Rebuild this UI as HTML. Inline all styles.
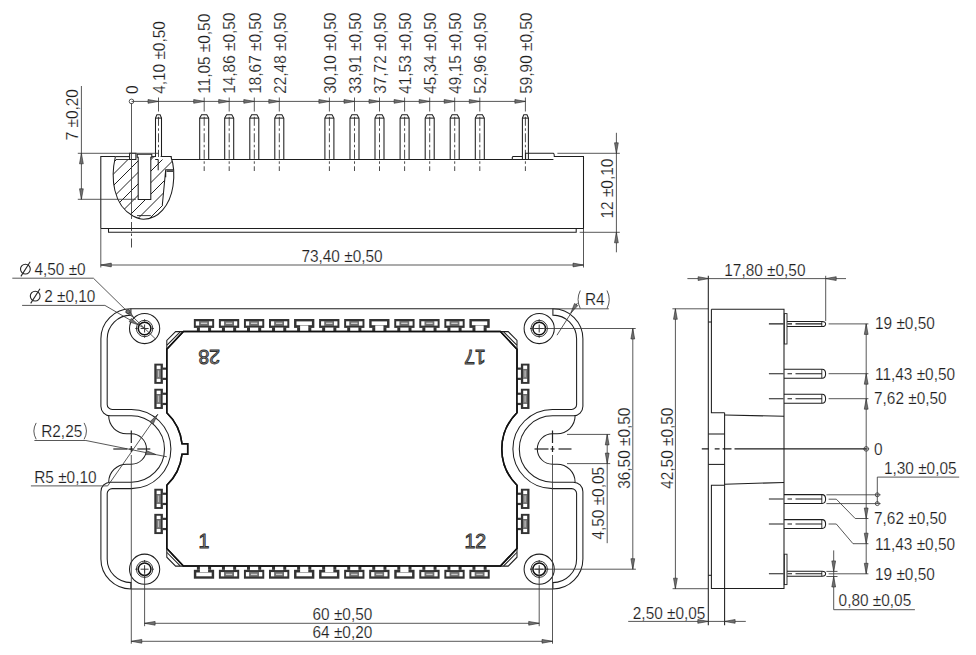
<!DOCTYPE html>
<html><head><meta charset="utf-8"><style>
html,body{margin:0;padding:0;background:#fff;width:976px;height:655px;overflow:hidden}
svg{display:block}
.o{stroke:#1e1e1e;stroke-width:1.05;fill:none}
.o2{stroke:#222;stroke-width:0.9;fill:none}
.cm{stroke:#222;stroke-width:1.2;fill:none}
.cl2{stroke:#1e1e1e;stroke-width:1.1;fill:none}
.th{stroke:#111;stroke-width:1.5;fill:none}
.d{stroke:#3a3a3a;stroke-width:0.85;fill:none}
.cl{stroke:#2a2a2a;stroke-width:0.85;fill:none;stroke-dasharray:9 2.5 2.5 2.5}
.h{stroke:#222;stroke-width:1.0;fill:none}
.ar{fill:#707070;stroke:#2a2a2a;stroke-width:0.6}
.sym{stroke:#262626;stroke-width:1.1;fill:none}
.t{font-family:"Liberation Sans",sans-serif;fill:#1e1e1e;stroke:#fff;stroke-width:0.15}
.tn{font-family:"Liberation Sans",sans-serif;fill:#9a9a9a;stroke:#2e2e2e;stroke-width:0.9}
.tb{font-family:"Liberation Sans",sans-serif;fill:#fff;stroke:#333;stroke-width:1.3;font-weight:bold}
</style></head><body>
<svg width="976" height="655" viewBox="0 0 976 655">
<rect width="976" height="655" fill="#fff"/>
<line x1="131.5" y1="101.4" x2="525.4" y2="101.4" class="d" />
<circle cx="131.5" cy="101.4" r="2.3" class="d" />
<text transform="translate(137.9,94.0) rotate(-90) scale(1,1.08)" text-anchor="start" font-size="15.4" class="t">0</text>
<path d="M158.5,101.4 L148.0,103.3 L148.0,99.5 Z" class="ar"/>
<line x1="158.5" y1="97.5" x2="158.5" y2="111.5" class="d" />
<text transform="translate(164.7,93.8) rotate(-90) scale(1,1.08)" text-anchor="start" font-size="15.4" class="t">4,10 ±0,50</text>
<path d="M155.5,159.5 V118.1 L156.9,114.8 H160.1 L161.5,118.1 V159.5" class="o" />
<line x1="155.5" y1="118.1" x2="161.5" y2="118.1" class="o" />
<line x1="158.5" y1="116.8" x2="158.5" y2="171.0" class="cl" />
<path d="M204.2,101.4 L193.7,103.3 L193.7,99.5 Z" class="ar"/>
<line x1="204.2" y1="97.5" x2="204.2" y2="111.5" class="d" />
<text transform="translate(210.4,93.8) rotate(-90) scale(1,1.08)" text-anchor="start" font-size="15.4" class="t">11,05 ±0,50</text>
<path d="M199.7,159.5 V118.1 L201.6,114.8 H206.8 L208.7,118.1 V159.5" class="o" />
<line x1="199.7" y1="118.1" x2="208.7" y2="118.1" class="o" />
<line x1="204.2" y1="116.8" x2="204.2" y2="171.0" class="cl" />
<path d="M229.2,101.4 L218.7,103.3 L218.7,99.5 Z" class="ar"/>
<line x1="229.2" y1="97.5" x2="229.2" y2="111.5" class="d" />
<text transform="translate(235.4,93.8) rotate(-90) scale(1,1.08)" text-anchor="start" font-size="15.4" class="t">14,86 ±0,50</text>
<path d="M224.7,159.5 V118.1 L226.6,114.8 H231.8 L233.7,118.1 V159.5" class="o" />
<line x1="224.7" y1="118.1" x2="233.7" y2="118.1" class="o" />
<line x1="229.2" y1="116.8" x2="229.2" y2="171.0" class="cl" />
<path d="M254.3,101.4 L243.8,103.3 L243.8,99.5 Z" class="ar"/>
<line x1="254.3" y1="97.5" x2="254.3" y2="111.5" class="d" />
<text transform="translate(260.5,93.8) rotate(-90) scale(1,1.08)" text-anchor="start" font-size="15.4" class="t">18,67 ±0,50</text>
<path d="M249.8,159.5 V118.1 L251.7,114.8 H256.9 L258.8,118.1 V159.5" class="o" />
<line x1="249.8" y1="118.1" x2="258.8" y2="118.1" class="o" />
<line x1="254.3" y1="116.8" x2="254.3" y2="171.0" class="cl" />
<path d="M279.3,101.4 L268.8,103.3 L268.8,99.5 Z" class="ar"/>
<line x1="279.3" y1="97.5" x2="279.3" y2="111.5" class="d" />
<text transform="translate(285.5,93.8) rotate(-90) scale(1,1.08)" text-anchor="start" font-size="15.4" class="t">22,48 ±0,50</text>
<path d="M274.8,159.5 V118.1 L276.7,114.8 H281.9 L283.8,118.1 V159.5" class="o" />
<line x1="274.8" y1="118.1" x2="283.8" y2="118.1" class="o" />
<line x1="279.3" y1="116.8" x2="279.3" y2="171.0" class="cl" />
<path d="M329.4,101.4 L318.9,103.3 L318.9,99.5 Z" class="ar"/>
<line x1="329.4" y1="97.5" x2="329.4" y2="111.5" class="d" />
<text transform="translate(335.6,93.8) rotate(-90) scale(1,1.08)" text-anchor="start" font-size="15.4" class="t">30,10 ±0,50</text>
<path d="M324.9,159.5 V118.1 L326.8,114.8 H332.0 L333.9,118.1 V159.5" class="o" />
<line x1="324.9" y1="118.1" x2="333.9" y2="118.1" class="o" />
<line x1="329.4" y1="116.8" x2="329.4" y2="171.0" class="cl" />
<path d="M354.5,101.4 L344.0,103.3 L344.0,99.5 Z" class="ar"/>
<line x1="354.5" y1="97.5" x2="354.5" y2="111.5" class="d" />
<text transform="translate(360.7,93.8) rotate(-90) scale(1,1.08)" text-anchor="start" font-size="15.4" class="t">33,91 ±0,50</text>
<path d="M350.0,159.5 V118.1 L351.9,114.8 H357.1 L359.0,118.1 V159.5" class="o" />
<line x1="350.0" y1="118.1" x2="359.0" y2="118.1" class="o" />
<line x1="354.5" y1="116.8" x2="354.5" y2="171.0" class="cl" />
<path d="M379.5,101.4 L369.0,103.3 L369.0,99.5 Z" class="ar"/>
<line x1="379.5" y1="97.5" x2="379.5" y2="111.5" class="d" />
<text transform="translate(385.7,93.8) rotate(-90) scale(1,1.08)" text-anchor="start" font-size="15.4" class="t">37,72 ±0,50</text>
<path d="M375.0,159.5 V118.1 L376.9,114.8 H382.1 L384.0,118.1 V159.5" class="o" />
<line x1="375.0" y1="118.1" x2="384.0" y2="118.1" class="o" />
<line x1="379.5" y1="116.8" x2="379.5" y2="171.0" class="cl" />
<path d="M404.6,101.4 L394.1,103.3 L394.1,99.5 Z" class="ar"/>
<line x1="404.6" y1="97.5" x2="404.6" y2="111.5" class="d" />
<text transform="translate(410.8,93.8) rotate(-90) scale(1,1.08)" text-anchor="start" font-size="15.4" class="t">41,53 ±0,50</text>
<path d="M400.1,159.5 V118.1 L402.0,114.8 H407.2 L409.1,118.1 V159.5" class="o" />
<line x1="400.1" y1="118.1" x2="409.1" y2="118.1" class="o" />
<line x1="404.6" y1="116.8" x2="404.6" y2="171.0" class="cl" />
<path d="M429.7,101.4 L419.2,103.3 L419.2,99.5 Z" class="ar"/>
<line x1="429.7" y1="97.5" x2="429.7" y2="111.5" class="d" />
<text transform="translate(435.9,93.8) rotate(-90) scale(1,1.08)" text-anchor="start" font-size="15.4" class="t">45,34 ±0,50</text>
<path d="M425.2,159.5 V118.1 L427.1,114.8 H432.3 L434.2,118.1 V159.5" class="o" />
<line x1="425.2" y1="118.1" x2="434.2" y2="118.1" class="o" />
<line x1="429.7" y1="116.8" x2="429.7" y2="171.0" class="cl" />
<path d="M454.7,101.4 L444.2,103.3 L444.2,99.5 Z" class="ar"/>
<line x1="454.7" y1="97.5" x2="454.7" y2="111.5" class="d" />
<text transform="translate(460.9,93.8) rotate(-90) scale(1,1.08)" text-anchor="start" font-size="15.4" class="t">49,15 ±0,50</text>
<path d="M450.2,159.5 V118.1 L452.1,114.8 H457.3 L459.2,118.1 V159.5" class="o" />
<line x1="450.2" y1="118.1" x2="459.2" y2="118.1" class="o" />
<line x1="454.7" y1="116.8" x2="454.7" y2="171.0" class="cl" />
<path d="M479.8,101.4 L469.3,103.3 L469.3,99.5 Z" class="ar"/>
<line x1="479.8" y1="97.5" x2="479.8" y2="111.5" class="d" />
<text transform="translate(486.0,93.8) rotate(-90) scale(1,1.08)" text-anchor="start" font-size="15.4" class="t">52,96 ±0,50</text>
<path d="M475.3,159.5 V118.1 L477.2,114.8 H482.4 L484.3,118.1 V159.5" class="o" />
<line x1="475.3" y1="118.1" x2="484.3" y2="118.1" class="o" />
<line x1="479.8" y1="116.8" x2="479.8" y2="171.0" class="cl" />
<path d="M525.4,101.4 L514.9,103.3 L514.9,99.5 Z" class="ar"/>
<line x1="525.4" y1="97.5" x2="525.4" y2="111.5" class="d" />
<text transform="translate(531.6,93.8) rotate(-90) scale(1,1.08)" text-anchor="start" font-size="15.4" class="t">59,90 ±0,50</text>
<path d="M522.4,159.5 V118.1 L523.8,114.8 H527.0 L528.4,118.1 V159.5" class="o" />
<line x1="522.4" y1="118.1" x2="528.4" y2="118.1" class="o" />
<line x1="525.4" y1="116.8" x2="525.4" y2="171.0" class="cl" />
<path d="M100.8,228.5 V156.5 H115.5" class="o" />
<path d="M161.2,159.5 V156.6 H171.2 V159.5 H512.3 V157.2 Q512.5,156.4 513.5,156.4 H522.6" class="o" />
<path d="M525.6,159.5 V153.3 H553.4 Q554.3,153.5 554.3,156.4 H583.5 V228.5 H100.8" class="o" />
<line x1="512.3" y1="159.5" x2="553.4" y2="159.5" class="o" />
<path d="M108.5,228.5 V232.3 H576.2 V228.5" class="o" />
<clipPath id="eggc"><path d="M115.3,157.0 C110.5,178 113,205 133,216 C138,218.6 141,219.2 143.5,219.2 C158,219.2 170,206 173,186 C174.5,175 174,165 171.0,157.0 Z"/></clipPath>
<g clip-path="url(#eggc)"><rect x="105" y="150" width="75" height="75" fill="#fff"/><path d="M60.0,-60.0 L260.0,-260.0 M60.0,-48.5 L260.0,-248.5 M60.0,-37.0 L260.0,-237.0 M60.0,-25.5 L260.0,-225.5 M60.0,-14.0 L260.0,-214.0 M60.0,-2.5 L260.0,-202.5 M60.0,9.0 L260.0,-191.0 M60.0,20.5 L260.0,-179.5 M60.0,32.0 L260.0,-168.0 M60.0,43.5 L260.0,-156.5 M60.0,55.0 L260.0,-145.0 M60.0,66.5 L260.0,-133.5 M60.0,78.0 L260.0,-122.0 M60.0,89.5 L260.0,-110.5 M60.0,101.0 L260.0,-99.0 M60.0,112.5 L260.0,-87.5 M60.0,124.0 L260.0,-76.0 M60.0,135.5 L260.0,-64.5 M60.0,147.0 L260.0,-53.0 M60.0,158.5 L260.0,-41.5 M60.0,170.0 L260.0,-30.0 M60.0,181.5 L260.0,-18.5 M60.0,193.0 L260.0,-7.0 M60.0,204.5 L260.0,4.5 M60.0,216.0 L260.0,16.0 M60.0,227.5 L260.0,27.5 M60.0,239.0 L260.0,39.0 M60.0,250.5 L260.0,50.5 M60.0,262.0 L260.0,62.0 M60.0,273.5 L260.0,73.5 M60.0,285.0 L260.0,85.0 M60.0,296.5 L260.0,96.5 M60.0,308.0 L260.0,108.0 M60.0,319.5 L260.0,119.5 M60.0,331.0 L260.0,131.0 M60.0,342.5 L260.0,142.5 M60.0,354.0 L260.0,154.0 M60.0,365.5 L260.0,165.5 M60.0,377.0 L260.0,177.0 M60.0,388.5 L260.0,188.5" class="h"/><rect x="105" y="150" width="24.6" height="9.5" fill="#fff"/><rect x="129.6" y="150" width="6.3" height="9.5" fill="#fff"/><path d="M138.2,157.2 V199.5 H150.8 V150 H138.2 Z" fill="#fff"/><rect x="155.2" y="150" width="6" height="9.5" fill="#fff"/><rect x="161.2" y="150" width="14" height="9.5" fill="#fff"/><path d="M165.7,169.8 L162.3,205.3 L185,205.3 L185,169.8 Z" fill="#fff"/></g>
<path d="M115.3,157.0 C110.5,178 113,205 133,216 C138,218.6 141,219.2 143.5,219.2 C158,219.2 170,206 173,186 C174.5,175 174,165 171.0,157.0" class="o" />
<line x1="115.3" y1="156.6" x2="129.6" y2="156.6" class="o" />
<line x1="115.8" y1="159.5" x2="129.6" y2="159.5" class="o2" />
<path d="M129.6,153.2 H135.9 V159.5 H129.6 Z" class="o" />
<path d="M137.2,154.3 H151.8 V157.2 H150.8 V199.5 H138.2 V157.2 H137.2 Z" class="o" />
<line x1="151.8" y1="156.6" x2="155.2" y2="156.6" class="o" />
<line x1="158.2" y1="159.5" x2="158.2" y2="170.3" class="o" />
<line x1="155.2" y1="159.5" x2="158.2" y2="159.5" class="o" />
<path d="M165.7,177.2 V169.8 H173.6 M165.7,169.8 L162.3,205.3" class="o" />
<rect x="166.50" y="170.20" width="6.80" height="1.80" fill="#444" />
<line x1="137.0" y1="215.6" x2="150.8" y2="215.6" class="o2" />
<line x1="131.5" y1="103.1" x2="131.5" y2="219.0" class="d" />
<line x1="131.5" y1="222.0" x2="131.5" y2="247.5" class="cl" />
<line x1="81.4" y1="86.0" x2="81.4" y2="199.3" class="d" />
<line x1="77.8" y1="153.3" x2="158.8" y2="153.3" class="d" />
<line x1="77.8" y1="199.3" x2="135.9" y2="199.3" class="d" />
<path d="M81.4,153.3 L83.3,163.8 L79.5,163.8 Z" class="ar"/>
<path d="M81.4,199.3 L79.5,188.8 L83.3,188.8 Z" class="ar"/>
<text transform="translate(78.4,140.3) rotate(-90) scale(1,1.08)" text-anchor="start" font-size="15.4" class="t">7 ±0,20</text>
<line x1="616.4" y1="132.8" x2="616.4" y2="252.3" class="d" />
<line x1="557.4" y1="153.3" x2="619.8" y2="153.3" class="d" />
<line x1="579.7" y1="232.3" x2="619.8" y2="232.3" class="d" />
<path d="M616.4,153.3 L614.5,142.8 L618.3,142.8 Z" class="ar"/>
<path d="M616.4,232.3 L618.3,242.8 L614.5,242.8 Z" class="ar"/>
<text transform="translate(613.4,218.5) rotate(-90) scale(1,1.08)" text-anchor="start" font-size="15.4" class="t">12 ±0,10</text>
<line x1="100.8" y1="228.5" x2="100.8" y2="267.5" class="d" />
<line x1="583.5" y1="228.5" x2="583.5" y2="267.5" class="d" />
<line x1="100.8" y1="265.0" x2="583.5" y2="265.0" class="d" />
<path d="M100.8,265.0 L111.3,263.1 L111.3,266.9 Z" class="ar"/>
<path d="M583.5,265.0 L573.0,266.9 L573.0,263.1 Z" class="ar"/>
<text transform="translate(342.0,262.0) scale(1,1.08)" text-anchor="middle" font-size="15.4" class="t">73,40 ±0,50</text>
<path d="M130.9,308.8 H552.9 A30.0,30.0 0 0 1 582.9,338.8 V406.3 A9.5,9.5 0 0 1 573.4,415.8 H552.5 A33.2,33.2 0 0 0 552.5,482.2 H573.4 A9.5,9.5 0 0 1 582.9,491.7 V558.9 A30.0,30.0 0 0 1 552.9,588.9 H130.9 A30.0,30.0 0 0 1 100.9,558.9 V491.7 A9.5,9.5 0 0 1 110.4,482.2 H131.3 A33.2,33.2 0 0 0 131.3,415.8 H110.4 A9.5,9.5 0 0 1 100.9,406.3 V338.8 A30.0,30.0 0 0 1 130.9,308.8 Z" class="o" />
<path d="M130.9,308.8 V315.1 A23.7,23.7 0 0 0 107.2,338.8 V404.4 A5.0,5.0 0 0 0 112.2,409.4 H131.3 A39.6,39.6 0 0 1 131.3,488.6 H112.2 A5.0,5.0 0 0 0 107.2,493.6 V558.9 A23.7,23.7 0 0 0 130.9,582.6 V588.9" class="o" />
<path d="M552.9,308.8 V315.1 A23.7,23.7 0 0 1 576.6,338.8 V404.4 A5.0,5.0 0 0 1 571.6,409.4 H552.5 A39.6,39.6 0 0 0 552.5,488.6 H571.6 A5.0,5.0 0 0 1 576.6,493.6 V558.9 A23.7,23.7 0 0 1 552.9,582.6 V588.9" class="o" />
<path d="M108.70000000000002,415.8 A18.0,18.0 0 0 0 126.7,433.8 H131.3 A15.2,15.2 0 0 1 131.3,464.2 H126.7 A18.0,18.0 0 0 0 108.70000000000002,482.2" class="o" />
<path d="M575.1,415.8 A18.0,18.0 0 0 1 557.1,433.8 H552.5 A15.2,15.2 0 0 0 552.5,464.2 H557.1 A18.0,18.0 0 0 1 575.1,482.2" class="o" />
<circle cx="144.6" cy="328.5" r="15.1" class="o" />
<circle cx="144.6" cy="328.5" r="8.2" class="o2" />
<circle cx="144.6" cy="328.5" r="6.3" class="th" />
<line x1="140.6" y1="328.5" x2="148.6" y2="328.5" class="o2" />
<line x1="144.6" y1="324.5" x2="144.6" y2="332.5" class="o2" />
<line x1="144.6" y1="321.5" x2="144.6" y2="319.3" class="o2" />
<line x1="144.6" y1="335.5" x2="144.6" y2="337.7" class="o2" />
<line x1="137.6" y1="328.5" x2="135.4" y2="328.5" class="o2" />
<line x1="151.6" y1="328.5" x2="153.8" y2="328.5" class="o2" />
<circle cx="539.2" cy="328.5" r="15.1" class="o" />
<circle cx="539.2" cy="328.5" r="8.2" class="o2" />
<circle cx="539.2" cy="328.5" r="6.3" class="th" />
<line x1="535.2" y1="328.5" x2="543.2" y2="328.5" class="o2" />
<line x1="539.2" y1="324.5" x2="539.2" y2="332.5" class="o2" />
<line x1="539.2" y1="321.5" x2="539.2" y2="319.3" class="o2" />
<line x1="539.2" y1="335.5" x2="539.2" y2="337.7" class="o2" />
<line x1="532.2" y1="328.5" x2="530.0" y2="328.5" class="o2" />
<line x1="546.2" y1="328.5" x2="548.4" y2="328.5" class="o2" />
<circle cx="144.6" cy="569.2" r="15.1" class="o" />
<circle cx="144.6" cy="569.2" r="8.2" class="o2" />
<circle cx="144.6" cy="569.2" r="6.3" class="th" />
<line x1="140.6" y1="569.2" x2="148.6" y2="569.2" class="o2" />
<line x1="144.6" y1="565.2" x2="144.6" y2="573.2" class="o2" />
<line x1="144.6" y1="562.2" x2="144.6" y2="560.0" class="o2" />
<line x1="144.6" y1="576.2" x2="144.6" y2="578.4" class="o2" />
<line x1="137.6" y1="569.2" x2="135.4" y2="569.2" class="o2" />
<line x1="151.6" y1="569.2" x2="153.8" y2="569.2" class="o2" />
<circle cx="539.2" cy="569.2" r="15.1" class="o" />
<circle cx="539.2" cy="569.2" r="8.2" class="o2" />
<circle cx="539.2" cy="569.2" r="6.3" class="th" />
<line x1="535.2" y1="569.2" x2="543.2" y2="569.2" class="o2" />
<line x1="539.2" y1="565.2" x2="539.2" y2="573.2" class="o2" />
<line x1="539.2" y1="562.2" x2="539.2" y2="560.0" class="o2" />
<line x1="539.2" y1="576.2" x2="539.2" y2="578.4" class="o2" />
<line x1="532.2" y1="569.2" x2="530.0" y2="569.2" class="o2" />
<line x1="546.2" y1="569.2" x2="548.4" y2="569.2" class="o2" />
<path d="M183.4,331.6 H500.4 L517.0,349.20000000000005 V412.8 A50.7,50.7 0 0 0 517.0,485.2 V548.5 L500.4,566.1 H183.4 L166.8,548.5 V485.2 A50.7,50.7 0 0 0 182.0,454.3 H187.7 V443.7 H182.0 A50.7,50.7 0 0 0 166.8,412.8 V349.20000000000005 Z" class="th" />
<path d="M183.4,331.6 H175.6 L166.8,340.5 V349.2" class="o" />
<line x1="180.2" y1="331.8" x2="167.0" y2="345.2" class="o" />
<path d="M183.4,566.1 H175.6 L166.8,557.2 V548.5" class="o" />
<line x1="180.2" y1="565.9" x2="167.0" y2="552.5" class="o" />
<path d="M500.4,331.6 H508.2 L517.0,340.5 V349.2" class="o" />
<line x1="503.6" y1="331.8" x2="516.8" y2="345.2" class="o" />
<path d="M500.4,566.1 H508.2 L517.0,557.2 V548.5" class="o" />
<line x1="503.6" y1="565.9" x2="516.8" y2="552.5" class="o" />
<rect x="193.85" y="319.00" width="20.30" height="8.90" fill="#333" />
<rect x="196.90" y="327.90" width="14.20" height="3.90" fill="#333" />
<rect x="195.80" y="321.30" width="3.50" height="4.30" fill="#fff" />
<rect x="208.70" y="321.30" width="3.50" height="4.30" fill="#fff" />
<rect x="199.30" y="321.10" width="9.40" height="4.70" fill="#6e6e6e" />
<rect x="200.80" y="322.60" width="6.40" height="1.40" fill="#c8c8c8" />
<rect x="199.90" y="327.60" width="8.20" height="4.10" fill="#fff" />
<rect x="193.85" y="569.80" width="20.30" height="8.90" fill="#333" />
<rect x="196.90" y="565.90" width="14.20" height="3.90" fill="#333" />
<rect x="196.30" y="572.50" width="15.40" height="3.80" fill="#fff" />
<rect x="199.90" y="566.00" width="8.20" height="6.20" fill="#fff" />
<rect x="218.90" y="319.00" width="20.30" height="8.90" fill="#333" />
<rect x="221.95" y="327.90" width="14.20" height="3.90" fill="#333" />
<rect x="220.85" y="321.30" width="3.50" height="4.30" fill="#fff" />
<rect x="233.75" y="321.30" width="3.50" height="4.30" fill="#fff" />
<rect x="224.35" y="321.10" width="9.40" height="4.70" fill="#6e6e6e" />
<rect x="225.85" y="322.60" width="6.40" height="1.40" fill="#c8c8c8" />
<rect x="224.95" y="327.60" width="8.20" height="4.10" fill="#fff" />
<rect x="218.90" y="569.80" width="20.30" height="8.90" fill="#333" />
<rect x="221.95" y="565.90" width="14.20" height="3.90" fill="#333" />
<rect x="220.85" y="572.10" width="3.50" height="4.30" fill="#fff" />
<rect x="233.75" y="572.10" width="3.50" height="4.30" fill="#fff" />
<rect x="224.35" y="571.90" width="9.40" height="4.70" fill="#6e6e6e" />
<rect x="225.85" y="573.70" width="6.40" height="1.40" fill="#c8c8c8" />
<rect x="224.95" y="566.00" width="8.20" height="4.10" fill="#fff" />
<rect x="243.95" y="319.00" width="20.30" height="8.90" fill="#333" />
<rect x="247.00" y="327.90" width="14.20" height="3.90" fill="#333" />
<rect x="245.90" y="321.30" width="3.50" height="4.30" fill="#fff" />
<rect x="258.80" y="321.30" width="3.50" height="4.30" fill="#fff" />
<rect x="249.40" y="321.10" width="9.40" height="4.70" fill="#6e6e6e" />
<rect x="250.90" y="322.60" width="6.40" height="1.40" fill="#c8c8c8" />
<rect x="250.00" y="327.60" width="8.20" height="4.10" fill="#fff" />
<rect x="243.95" y="569.80" width="20.30" height="8.90" fill="#333" />
<rect x="247.00" y="565.90" width="14.20" height="3.90" fill="#333" />
<rect x="245.90" y="572.10" width="3.50" height="4.30" fill="#fff" />
<rect x="258.80" y="572.10" width="3.50" height="4.30" fill="#fff" />
<rect x="249.40" y="571.90" width="9.40" height="4.70" fill="#6e6e6e" />
<rect x="250.90" y="573.70" width="6.40" height="1.40" fill="#c8c8c8" />
<rect x="250.00" y="566.00" width="8.20" height="4.10" fill="#fff" />
<rect x="269.00" y="319.00" width="20.30" height="8.90" fill="#333" />
<rect x="272.05" y="327.90" width="14.20" height="3.90" fill="#333" />
<rect x="270.95" y="321.30" width="3.50" height="4.30" fill="#fff" />
<rect x="283.85" y="321.30" width="3.50" height="4.30" fill="#fff" />
<rect x="274.45" y="321.10" width="9.40" height="4.70" fill="#6e6e6e" />
<rect x="275.95" y="322.60" width="6.40" height="1.40" fill="#c8c8c8" />
<rect x="275.05" y="327.60" width="8.20" height="4.10" fill="#fff" />
<rect x="269.00" y="569.80" width="20.30" height="8.90" fill="#333" />
<rect x="272.05" y="565.90" width="14.20" height="3.90" fill="#333" />
<rect x="270.95" y="572.10" width="3.50" height="4.30" fill="#fff" />
<rect x="283.85" y="572.10" width="3.50" height="4.30" fill="#fff" />
<rect x="274.45" y="571.90" width="9.40" height="4.70" fill="#6e6e6e" />
<rect x="275.95" y="573.70" width="6.40" height="1.40" fill="#c8c8c8" />
<rect x="275.05" y="566.00" width="8.20" height="4.10" fill="#fff" />
<rect x="294.05" y="319.00" width="20.30" height="8.90" fill="#333" />
<rect x="297.10" y="327.90" width="14.20" height="3.90" fill="#333" />
<rect x="296.50" y="321.40" width="15.40" height="3.80" fill="#fff" />
<rect x="300.10" y="325.50" width="8.20" height="6.20" fill="#fff" />
<rect x="294.05" y="569.80" width="20.30" height="8.90" fill="#333" />
<rect x="297.10" y="565.90" width="14.20" height="3.90" fill="#333" />
<rect x="296.50" y="572.50" width="15.40" height="3.80" fill="#fff" />
<rect x="300.10" y="566.00" width="8.20" height="6.20" fill="#fff" />
<rect x="319.10" y="319.00" width="20.30" height="8.90" fill="#333" />
<rect x="322.15" y="327.90" width="14.20" height="3.90" fill="#333" />
<rect x="321.05" y="321.30" width="3.50" height="4.30" fill="#fff" />
<rect x="333.95" y="321.30" width="3.50" height="4.30" fill="#fff" />
<rect x="324.55" y="321.10" width="9.40" height="4.70" fill="#6e6e6e" />
<rect x="326.05" y="322.60" width="6.40" height="1.40" fill="#c8c8c8" />
<rect x="325.15" y="327.60" width="8.20" height="4.10" fill="#fff" />
<rect x="319.10" y="569.80" width="20.30" height="8.90" fill="#333" />
<rect x="322.15" y="565.90" width="14.20" height="3.90" fill="#333" />
<rect x="321.55" y="572.50" width="15.40" height="3.80" fill="#fff" />
<rect x="325.15" y="566.00" width="8.20" height="6.20" fill="#fff" />
<rect x="344.15" y="319.00" width="20.30" height="8.90" fill="#333" />
<rect x="347.20" y="327.90" width="14.20" height="3.90" fill="#333" />
<rect x="346.10" y="321.30" width="3.50" height="4.30" fill="#fff" />
<rect x="359.00" y="321.30" width="3.50" height="4.30" fill="#fff" />
<rect x="349.60" y="321.10" width="9.40" height="4.70" fill="#6e6e6e" />
<rect x="351.10" y="322.60" width="6.40" height="1.40" fill="#c8c8c8" />
<rect x="350.20" y="327.60" width="8.20" height="4.10" fill="#fff" />
<rect x="344.15" y="569.80" width="20.30" height="8.90" fill="#333" />
<rect x="347.20" y="565.90" width="14.20" height="3.90" fill="#333" />
<rect x="346.10" y="572.10" width="3.50" height="4.30" fill="#fff" />
<rect x="359.00" y="572.10" width="3.50" height="4.30" fill="#fff" />
<rect x="349.60" y="571.90" width="9.40" height="4.70" fill="#6e6e6e" />
<rect x="351.10" y="573.70" width="6.40" height="1.40" fill="#c8c8c8" />
<rect x="350.20" y="566.00" width="8.20" height="4.10" fill="#fff" />
<rect x="369.20" y="319.00" width="20.30" height="8.90" fill="#333" />
<rect x="372.25" y="327.90" width="14.20" height="3.90" fill="#333" />
<rect x="371.65" y="321.40" width="15.40" height="3.80" fill="#fff" />
<rect x="375.25" y="325.50" width="8.20" height="6.20" fill="#fff" />
<rect x="369.20" y="569.80" width="20.30" height="8.90" fill="#333" />
<rect x="372.25" y="565.90" width="14.20" height="3.90" fill="#333" />
<rect x="371.15" y="572.10" width="3.50" height="4.30" fill="#fff" />
<rect x="384.05" y="572.10" width="3.50" height="4.30" fill="#fff" />
<rect x="374.65" y="571.90" width="9.40" height="4.70" fill="#6e6e6e" />
<rect x="376.15" y="573.70" width="6.40" height="1.40" fill="#c8c8c8" />
<rect x="375.25" y="566.00" width="8.20" height="4.10" fill="#fff" />
<rect x="394.25" y="319.00" width="20.30" height="8.90" fill="#333" />
<rect x="397.30" y="327.90" width="14.20" height="3.90" fill="#333" />
<rect x="396.20" y="321.30" width="3.50" height="4.30" fill="#fff" />
<rect x="409.10" y="321.30" width="3.50" height="4.30" fill="#fff" />
<rect x="399.70" y="321.10" width="9.40" height="4.70" fill="#6e6e6e" />
<rect x="401.20" y="322.60" width="6.40" height="1.40" fill="#c8c8c8" />
<rect x="400.30" y="327.60" width="8.20" height="4.10" fill="#fff" />
<rect x="394.25" y="569.80" width="20.30" height="8.90" fill="#333" />
<rect x="397.30" y="565.90" width="14.20" height="3.90" fill="#333" />
<rect x="396.70" y="572.50" width="15.40" height="3.80" fill="#fff" />
<rect x="400.30" y="566.00" width="8.20" height="6.20" fill="#fff" />
<rect x="419.30" y="319.00" width="20.30" height="8.90" fill="#333" />
<rect x="422.35" y="327.90" width="14.20" height="3.90" fill="#333" />
<rect x="421.25" y="321.30" width="3.50" height="4.30" fill="#fff" />
<rect x="434.15" y="321.30" width="3.50" height="4.30" fill="#fff" />
<rect x="424.75" y="321.10" width="9.40" height="4.70" fill="#6e6e6e" />
<rect x="426.25" y="322.60" width="6.40" height="1.40" fill="#c8c8c8" />
<rect x="425.35" y="327.60" width="8.20" height="4.10" fill="#fff" />
<rect x="419.30" y="569.80" width="20.30" height="8.90" fill="#333" />
<rect x="422.35" y="565.90" width="14.20" height="3.90" fill="#333" />
<rect x="421.25" y="572.10" width="3.50" height="4.30" fill="#fff" />
<rect x="434.15" y="572.10" width="3.50" height="4.30" fill="#fff" />
<rect x="424.75" y="571.90" width="9.40" height="4.70" fill="#6e6e6e" />
<rect x="426.25" y="573.70" width="6.40" height="1.40" fill="#c8c8c8" />
<rect x="425.35" y="566.00" width="8.20" height="4.10" fill="#fff" />
<rect x="444.35" y="319.00" width="20.30" height="8.90" fill="#333" />
<rect x="447.40" y="327.90" width="14.20" height="3.90" fill="#333" />
<rect x="446.30" y="321.30" width="3.50" height="4.30" fill="#fff" />
<rect x="459.20" y="321.30" width="3.50" height="4.30" fill="#fff" />
<rect x="449.80" y="321.10" width="9.40" height="4.70" fill="#6e6e6e" />
<rect x="451.30" y="322.60" width="6.40" height="1.40" fill="#c8c8c8" />
<rect x="450.40" y="327.60" width="8.20" height="4.10" fill="#fff" />
<rect x="444.35" y="569.80" width="20.30" height="8.90" fill="#333" />
<rect x="447.40" y="565.90" width="14.20" height="3.90" fill="#333" />
<rect x="446.30" y="572.10" width="3.50" height="4.30" fill="#fff" />
<rect x="459.20" y="572.10" width="3.50" height="4.30" fill="#fff" />
<rect x="449.80" y="571.90" width="9.40" height="4.70" fill="#6e6e6e" />
<rect x="451.30" y="573.70" width="6.40" height="1.40" fill="#c8c8c8" />
<rect x="450.40" y="566.00" width="8.20" height="4.10" fill="#fff" />
<rect x="469.40" y="319.00" width="20.30" height="8.90" fill="#333" />
<rect x="472.45" y="327.90" width="14.20" height="3.90" fill="#333" />
<rect x="471.85" y="321.40" width="15.40" height="3.80" fill="#fff" />
<rect x="475.45" y="325.50" width="8.20" height="6.20" fill="#fff" />
<rect x="469.40" y="569.80" width="20.30" height="8.90" fill="#333" />
<rect x="472.45" y="565.90" width="14.20" height="3.90" fill="#333" />
<rect x="471.35" y="572.10" width="3.50" height="4.30" fill="#fff" />
<rect x="484.25" y="572.10" width="3.50" height="4.30" fill="#fff" />
<rect x="474.85" y="571.90" width="9.40" height="4.70" fill="#6e6e6e" />
<rect x="476.35" y="573.70" width="6.40" height="1.40" fill="#c8c8c8" />
<rect x="475.45" y="566.00" width="8.20" height="4.10" fill="#fff" />
<rect x="154.30" y="363.65" width="8.60" height="20.20" fill="#333" />
<rect x="162.90" y="367.55" width="3.90" height="12.40" fill="#333" />
<rect x="156.60" y="365.55" width="4.00" height="3.40" fill="#fff" />
<rect x="156.60" y="378.55" width="4.00" height="3.40" fill="#fff" />
<rect x="156.40" y="369.15" width="4.40" height="9.20" fill="#7a7a7a" />
<rect x="157.90" y="370.55" width="1.20" height="6.40" fill="#bbb" />
<rect x="162.70" y="369.75" width="3.70" height="8.00" fill="#fff" />
<rect x="520.90" y="363.65" width="8.60" height="20.20" fill="#333" />
<rect x="517.00" y="367.55" width="3.90" height="12.40" fill="#333" />
<rect x="523.20" y="365.55" width="4.00" height="3.40" fill="#fff" />
<rect x="523.20" y="378.55" width="4.00" height="3.40" fill="#fff" />
<rect x="523.00" y="369.15" width="4.40" height="9.20" fill="#7a7a7a" />
<rect x="524.50" y="370.55" width="1.20" height="6.40" fill="#bbb" />
<rect x="517.20" y="369.75" width="3.70" height="8.00" fill="#fff" />
<rect x="154.30" y="388.75" width="8.60" height="20.20" fill="#333" />
<rect x="162.90" y="392.65" width="3.90" height="12.40" fill="#333" />
<rect x="156.60" y="390.65" width="4.00" height="3.40" fill="#fff" />
<rect x="156.60" y="403.65" width="4.00" height="3.40" fill="#fff" />
<rect x="156.40" y="394.25" width="4.40" height="9.20" fill="#7a7a7a" />
<rect x="157.90" y="395.65" width="1.20" height="6.40" fill="#bbb" />
<rect x="162.70" y="394.85" width="3.70" height="8.00" fill="#fff" />
<rect x="520.90" y="388.75" width="8.60" height="20.20" fill="#333" />
<rect x="517.00" y="392.65" width="3.90" height="12.40" fill="#333" />
<rect x="523.20" y="390.65" width="4.00" height="3.40" fill="#fff" />
<rect x="523.20" y="403.65" width="4.00" height="3.40" fill="#fff" />
<rect x="523.00" y="394.25" width="4.40" height="9.20" fill="#7a7a7a" />
<rect x="524.50" y="395.65" width="1.20" height="6.40" fill="#bbb" />
<rect x="517.20" y="394.85" width="3.70" height="8.00" fill="#fff" />
<rect x="154.30" y="488.75" width="8.60" height="20.20" fill="#333" />
<rect x="162.90" y="492.65" width="3.90" height="12.40" fill="#333" />
<rect x="156.60" y="490.65" width="4.00" height="3.40" fill="#fff" />
<rect x="156.60" y="503.65" width="4.00" height="3.40" fill="#fff" />
<rect x="156.40" y="494.25" width="4.40" height="9.20" fill="#7a7a7a" />
<rect x="157.90" y="495.65" width="1.20" height="6.40" fill="#bbb" />
<rect x="162.70" y="494.85" width="3.70" height="8.00" fill="#fff" />
<rect x="520.90" y="488.75" width="8.60" height="20.20" fill="#333" />
<rect x="517.00" y="492.65" width="3.90" height="12.40" fill="#333" />
<rect x="523.20" y="490.65" width="4.00" height="3.40" fill="#fff" />
<rect x="523.20" y="503.65" width="4.00" height="3.40" fill="#fff" />
<rect x="523.00" y="494.25" width="4.40" height="9.20" fill="#7a7a7a" />
<rect x="524.50" y="495.65" width="1.20" height="6.40" fill="#bbb" />
<rect x="517.20" y="494.85" width="3.70" height="8.00" fill="#fff" />
<rect x="154.30" y="513.85" width="8.60" height="20.20" fill="#333" />
<rect x="162.90" y="517.75" width="3.90" height="12.40" fill="#333" />
<rect x="156.60" y="515.75" width="4.00" height="3.40" fill="#fff" />
<rect x="156.60" y="528.75" width="4.00" height="3.40" fill="#fff" />
<rect x="156.40" y="519.35" width="4.40" height="9.20" fill="#7a7a7a" />
<rect x="157.90" y="520.75" width="1.20" height="6.40" fill="#bbb" />
<rect x="162.70" y="519.95" width="3.70" height="8.00" fill="#fff" />
<rect x="520.90" y="513.85" width="8.60" height="20.20" fill="#333" />
<rect x="517.00" y="517.75" width="3.90" height="12.40" fill="#333" />
<rect x="523.20" y="515.75" width="4.00" height="3.40" fill="#fff" />
<rect x="523.20" y="528.75" width="4.00" height="3.40" fill="#fff" />
<rect x="523.00" y="519.35" width="4.40" height="9.20" fill="#7a7a7a" />
<rect x="524.50" y="520.75" width="1.20" height="6.40" fill="#bbb" />
<rect x="517.20" y="519.95" width="3.70" height="8.00" fill="#fff" />
<path d="M183.4,331.6 H500.4 L517.0,349.20000000000005 V412.8 A50.7,50.7 0 0 0 517.0,485.2 V548.5 L500.4,566.1 H183.4 L166.8,548.5 V485.2 A50.7,50.7 0 0 0 182.0,454.3 H187.7 V443.7 H182.0 A50.7,50.7 0 0 0 166.8,412.8 V349.20000000000005 Z" class="th" />
<text transform="translate(209.2,357) rotate(180)" text-anchor="middle" dominant-baseline="central" font-size="19.5" class="tn">28</text>
<text transform="translate(475,356.5) rotate(180)" text-anchor="middle" dominant-baseline="central" font-size="19.5" class="tn">17</text>
<text transform="translate(204.0,547.8)" text-anchor="middle" font-size="19.5" class="tn">1</text>
<text transform="translate(475.3,547.9)" text-anchor="middle" font-size="19.5" class="tn">12</text>
<line x1="113.3" y1="449.0" x2="127.3" y2="449.0" class="cm" />
<line x1="129.3" y1="449.0" x2="133.3" y2="449.0" class="cm" />
<line x1="137.3" y1="449.0" x2="150.3" y2="449.0" class="cm" />
<line x1="131.3" y1="430.5" x2="131.3" y2="443.0" class="cm" />
<line x1="131.3" y1="446.0" x2="131.3" y2="452.0" class="cm" />
<line x1="131.3" y1="455.0" x2="131.3" y2="643.7" class="d" />
<line x1="534.5" y1="449.0" x2="548.5" y2="449.0" class="cm" />
<line x1="550.5" y1="449.0" x2="554.5" y2="449.0" class="cm" />
<line x1="558.5" y1="449.0" x2="571.5" y2="449.0" class="cm" />
<line x1="552.5" y1="430.5" x2="552.5" y2="443.0" class="cm" />
<line x1="552.5" y1="446.0" x2="552.5" y2="452.0" class="cm" />
<line x1="552.5" y1="455.0" x2="552.5" y2="643.7" class="d" />
<line x1="12.3" y1="278.2" x2="93.4" y2="278.2" class="d" />
<line x1="93.4" y1="278.2" x2="155.5" y2="339.0" class="d" />
<path d="M134.0,317.8 L125.5,312.2 L128.3,309.4 Z" class="ar"/>
<circle cx="128.0" cy="311.6" r="2.0" class="ar" />
<line x1="22.1" y1="305.4" x2="104.9" y2="305.4" class="d" />
<line x1="104.9" y1="305.4" x2="144.6" y2="328.4" class="d" />
<path d="M138.9,325.1 L129.2,321.8 L131.3,318.4 Z" class="ar"/>
<circle cx="25.4" cy="269.1" r="4.9" class="sym"/>
<line x1="20.9" y1="276.4" x2="30.2" y2="261.8" class="sym" />
<text transform="translate(34.4,274.6) scale(1,1.08)" text-anchor="start" font-size="15.4" class="t">4,50 ±0</text>
<circle cx="35.2" cy="296.1" r="4.9" class="sym"/>
<line x1="30.7" y1="303.4" x2="40.0" y2="288.8" class="sym" />
<text transform="translate(44.2,301.6) scale(1,1.08)" text-anchor="start" font-size="15.4" class="t">2 ±0,10</text>
<line x1="34.4" y1="440.5" x2="85.9" y2="440.5" class="d" />
<line x1="85.9" y1="440.5" x2="166.8" y2="456.8" class="d" />
<path d="M156.0,454.6 L145.8,454.6 L146.6,450.7 Z" class="ar"/>
<text transform="translate(41.2,436.6) scale(1,1.08)" text-anchor="start" font-size="15.4" class="t">R2,25</text>
<path d="M36.2,422.9 Q31.5,431 36.2,439.3" class="d" />
<path d="M84.1,422.9 Q88.8,431 84.1,439.3" class="d" />
<line x1="30.9" y1="485.9" x2="107.7" y2="485.9" class="d" />
<line x1="107.7" y1="485.9" x2="158.0" y2="414.0" class="d" />
<path d="M157.3,414.8 L153.2,424.1 L149.9,421.8 Z" class="ar"/>
<text transform="translate(34.2,483.3) scale(1,1.08)" text-anchor="start" font-size="15.4" class="t">R5 ±0,10</text>
<line x1="557.0" y1="335.2" x2="577.5" y2="302.9" class="d" />
<path d="M570.8,313.0 L574.5,303.5 L577.8,305.6 Z" class="ar"/>
<line x1="552.9" y1="308.8" x2="608.8" y2="308.8" class="d" />
<text transform="translate(585.0,305.3) scale(1,1.08)" text-anchor="start" font-size="15.4" class="t">R4</text>
<path d="M580.3,290.5 Q575.8,299.5 580.3,308.5" class="d" />
<path d="M607.0,290.5 Q611.5,299.5 607.0,308.5" class="d" />
<line x1="530.4" y1="328.5" x2="635.7" y2="328.5" class="d" />
<line x1="530.4" y1="569.2" x2="635.9" y2="569.2" class="d" />
<line x1="144.6" y1="569.2" x2="144.6" y2="626.2" class="d" />
<line x1="539.2" y1="569.2" x2="539.2" y2="626.2" class="d" />
<line x1="144.6" y1="623.3" x2="539.2" y2="623.3" class="d" />
<path d="M144.6,623.3 L155.1,621.4 L155.1,625.2 Z" class="ar"/>
<path d="M539.2,623.3 L528.7,625.2 L528.7,621.4 Z" class="ar"/>
<text transform="translate(342.4,620.3) scale(1,1.08)" text-anchor="middle" font-size="15.4" class="t">60 ±0,50</text>
<line x1="131.3" y1="641.3" x2="552.5" y2="641.3" class="d" />
<path d="M131.3,641.3 L141.8,639.4 L141.8,643.2 Z" class="ar"/>
<path d="M552.5,641.3 L542.0,643.2 L542.0,639.4 Z" class="ar"/>
<text transform="translate(342.4,638.4) scale(1,1.08)" text-anchor="middle" font-size="15.4" class="t">64 ±0,20</text>
<line x1="632.8" y1="328.5" x2="632.8" y2="569.2" class="d" />
<path d="M632.8,328.5 L634.7,339.0 L630.9,339.0 Z" class="ar"/>
<path d="M632.8,569.2 L630.9,558.7 L634.7,558.7 Z" class="ar"/>
<text transform="translate(629.6,488.8) rotate(-90) scale(1,1.08)" text-anchor="start" font-size="15.4" class="t">36,50 ±0,50</text>
<line x1="567.0" y1="434.4" x2="610.2" y2="434.4" class="d" />
<line x1="567.0" y1="463.6" x2="610.2" y2="463.6" class="d" />
<line x1="607.2" y1="434.4" x2="607.2" y2="543.2" class="d" />
<path d="M607.2,434.4 L609.1,444.9 L605.3,444.9 Z" class="ar"/>
<path d="M607.2,463.6 L605.3,453.1 L609.1,453.1 Z" class="ar"/>
<text transform="translate(603.8,539.6) rotate(-90) scale(1,1.08)" text-anchor="start" font-size="15.4" class="t">4,50 ±0,05</text>
<line x1="672.4" y1="308.8" x2="708.3" y2="308.8" class="d" />
<line x1="672.6" y1="588.7" x2="708.3" y2="588.7" class="d" />
<line x1="675.4" y1="308.8" x2="675.4" y2="588.7" class="d" />
<path d="M675.4,308.8 L677.3,319.3 L673.5,319.3 Z" class="ar"/>
<path d="M675.4,588.7 L673.5,578.2 L677.3,578.2 Z" class="ar"/>
<text transform="translate(673.1,488.8) rotate(-90) scale(1,1.08)" text-anchor="start" font-size="15.4" class="t">42,50 ±0,50</text>
<path d="M711.4,309.3 H784.0 V588.4 H711.4 V485.2 H724.6" class="o" />
<path d="M711.4,309.3 V412.8 H724.6" class="o" />
<line x1="708.3" y1="275.8" x2="708.3" y2="625.2" class="o" />
<line x1="708.3" y1="322.0" x2="711.4" y2="322.0" class="o" />
<line x1="708.3" y1="575.3" x2="711.4" y2="575.3" class="o" />
<line x1="724.6" y1="412.8" x2="724.6" y2="625.2" class="o" />
<line x1="724.6" y1="415.0" x2="784.0" y2="416.3" class="o" />
<line x1="724.6" y1="484.2" x2="784.0" y2="482.5" class="o" />
<line x1="708.3" y1="434.0" x2="724.6" y2="434.0" class="o" />
<line x1="708.3" y1="464.4" x2="724.6" y2="464.4" class="o" />
<path d="M701.8,448.85 H708.7 M714.7,448.85 H719.6 M722.6,448.85 H731.5 M734.5,448.85 H866.2" class="cl2" />
<circle cx="866.2" cy="448.9" r="2.3" class="d" />
<line x1="863.2" y1="448.9" x2="869.2" y2="448.9" class="d" />
<text transform="translate(874.0,454.7) scale(1,1.08)" text-anchor="start" font-size="15.4" class="t">0</text>
<line x1="866.2" y1="323.9" x2="866.2" y2="573.8" class="d" />
<path d="M787.0,321.4 H822.1 Q825.6,321.4 825.6,323.9 Q825.6,326.5 822.1,326.5 H787.0" class="o" />
<line x1="821.8" y1="321.4" x2="821.8" y2="326.5" class="o2" />
<rect x="784.3" y="313.6" width="2.7" height="30.4" class="o2"/>
<path d="M768.9,323.9 H783.5 M787.5,323.9 H792 M795.5,323.9 H822" class="cl2" />
<line x1="828.6" y1="323.9" x2="868.4" y2="323.9" class="d" />
<path d="M866.2,323.9 L868.1,334.4 L864.3,334.4 Z" class="ar"/>
<path d="M784.0,369.2 H822.1 Q825.6,369.2 825.6,373.7 Q825.6,378.2 822.1,378.2 H784.0" class="o" />
<line x1="821.8" y1="369.2" x2="821.8" y2="378.2" class="o2" />
<path d="M768.9,373.7 H783.5 M787.5,373.7 H792 M795.5,373.7 H822" class="cl2" />
<line x1="828.6" y1="373.7" x2="868.4" y2="373.7" class="d" />
<path d="M866.2,373.7 L868.1,384.2 L864.3,384.2 Z" class="ar"/>
<path d="M784.0,394.2 H822.1 Q825.6,394.2 825.6,398.7 Q825.6,403.2 822.1,403.2 H784.0" class="o" />
<line x1="821.8" y1="394.2" x2="821.8" y2="403.2" class="o2" />
<path d="M768.9,398.7 H783.5 M787.5,398.7 H792 M795.5,398.7 H822" class="cl2" />
<line x1="828.6" y1="398.7" x2="868.4" y2="398.7" class="d" />
<path d="M866.2,398.7 L868.1,409.2 L864.3,409.2 Z" class="ar"/>
<path d="M784.0,494.6 H822.1 Q825.6,494.6 825.6,499.0 Q825.6,503.4 822.1,503.4 H784.0" class="o" />
<line x1="821.8" y1="494.6" x2="821.8" y2="503.4" class="o2" />
<path d="M768.9,499.0 H783.5 M787.5,499.0 H792 M795.5,499.0 H822" class="cl2" />
<path d="M784.0,519.6 H822.1 Q825.6,519.6 825.6,524.0 Q825.6,528.4 822.1,528.4 H784.0" class="o" />
<line x1="821.8" y1="519.6" x2="821.8" y2="528.4" class="o2" />
<path d="M768.9,524.0 H783.5 M787.5,524.0 H792 M795.5,524.0 H822" class="cl2" />
<path d="M787.0,571.2 H822.1 Q825.6,571.2 825.6,573.8 Q825.6,576.3 822.1,576.3 H787.0" class="o" />
<line x1="821.8" y1="571.2" x2="821.8" y2="576.3" class="o2" />
<rect x="784.3" y="554.2" width="2.7" height="30.4" class="o2"/>
<path d="M768.9,573.8 H783.5 M787.5,573.8 H792 M795.5,573.8 H822" class="cl2" />
<text transform="translate(875.0,329.4) scale(1,1.08)" text-anchor="start" font-size="15.4" class="t">19 ±0,50</text>
<text transform="translate(875.0,379.7) scale(1,1.08)" text-anchor="start" font-size="15.4" class="t">11,43 ±0,50</text>
<text transform="translate(874.0,404.4) scale(1,1.08)" text-anchor="start" font-size="15.4" class="t">7,62 ±0,50</text>
<path d="M828.6,499.2 H836.3 L855.2,518.5 H868.4" class="d" />
<path d="M866.2,518.5 L864.3,508.0 L868.1,508.0 Z" class="ar"/>
<path d="M828.6,524.0 H836.3 L853.0,543.7 H868.4" class="d" />
<path d="M866.2,543.7 L864.3,533.2 L868.1,533.2 Z" class="ar"/>
<line x1="828.6" y1="573.8" x2="868.4" y2="573.8" class="d" />
<path d="M866.2,573.8 L864.3,563.3 L868.1,563.3 Z" class="ar"/>
<text transform="translate(874.0,524.0) scale(1,1.08)" text-anchor="start" font-size="15.4" class="t">7,62 ±0,50</text>
<text transform="translate(875.0,549.9) scale(1,1.08)" text-anchor="start" font-size="15.4" class="t">11,43 ±0,50</text>
<text transform="translate(875.0,579.8) scale(1,1.08)" text-anchor="start" font-size="15.4" class="t">19 ±0,50</text>
<line x1="826.4" y1="494.8" x2="880.6" y2="494.8" class="d" />
<line x1="826.4" y1="503.6" x2="880.6" y2="503.6" class="d" />
<path d="M959.2,477.1 H877.3 V503.6" class="d" />
<circle cx="877.3" cy="494.8" r="2.0" class="d" />
<circle cx="877.3" cy="503.6" r="2.0" class="d" />
<text transform="translate(883.9,473.6) scale(1,1.08)" text-anchor="start" font-size="15.4" class="t">1,30 ±0,05</text>
<line x1="826.4" y1="571.4" x2="837.5" y2="571.4" class="d" />
<line x1="826.4" y1="576.5" x2="837.5" y2="576.5" class="d" />
<path d="M833.7,550.4 V609.7 H914.9" class="d" />
<path d="M833.7,571.4 L831.8,560.9 L835.6,560.9 Z" class="ar"/>
<path d="M833.7,576.5 L835.6,587.0 L831.8,587.0 Z" class="ar"/>
<text transform="translate(838.6,606.3) scale(1,1.08)" text-anchor="start" font-size="15.4" class="t">0,80 ±0,05</text>
<line x1="687.4" y1="278.6" x2="846.0" y2="278.6" class="d" />
<path d="M708.6,278.6 L698.1,280.5 L698.1,276.7 Z" class="ar"/>
<path d="M825.7,278.6 L836.2,276.7 L836.2,280.5 Z" class="ar"/>
<line x1="825.7" y1="275.8" x2="825.7" y2="321.0" class="d" />
<text transform="translate(724.3,275.5) scale(1,1.08)" text-anchor="start" font-size="15.4" class="t">17,80 ±0,50</text>
<line x1="628.2" y1="621.4" x2="745.8" y2="621.4" class="d" />
<path d="M708.3,621.4 L697.8,623.3 L697.8,619.5 Z" class="ar"/>
<path d="M724.6,621.4 L735.1,619.5 L735.1,623.3 Z" class="ar"/>
<text transform="translate(632.8,618.6) scale(1,1.08)" text-anchor="start" font-size="15.4" class="t">2,50 ±0,05</text>
</svg></body></html>
